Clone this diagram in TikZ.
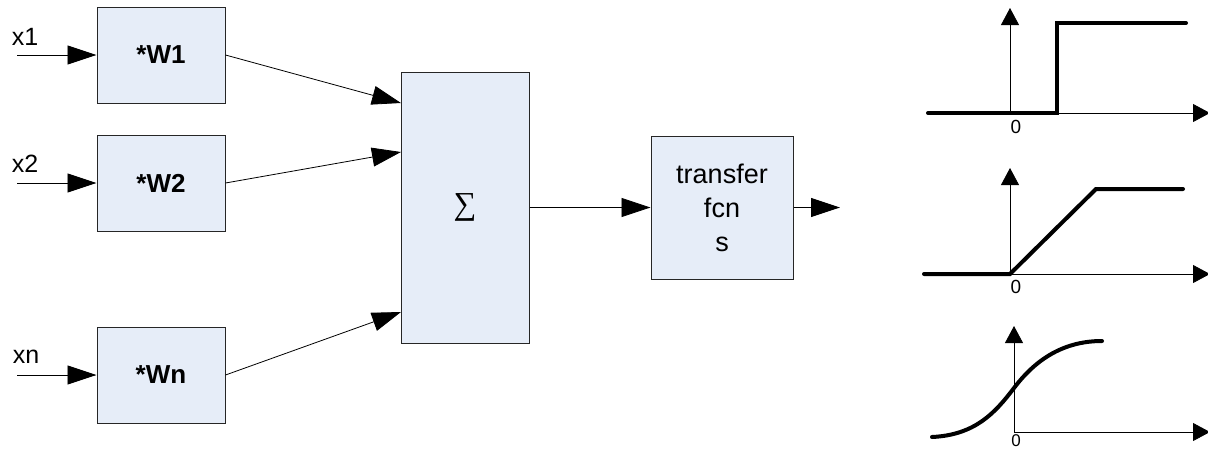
\documentclass[tikz,border=0pt]{standalone}
\usepackage{fontspec}
\setmainfont{Liberation Sans}
\newfontfamily\sumfont{Liberation Serif}
\usetikzlibrary{arrows.meta}
\definecolor{boxfill}{RGB}{230,237,248}

\begin{document}
\begin{tikzpicture}[x=1pt,y=-1pt,
  wbox/.style={draw=black!85,fill=boxfill,line width=1pt,minimum width=128pt,minimum height=96pt,font=\fontsize{26}{30}\selectfont\bfseries},
  inlabel/.style={font=\fontsize{25}{30}\selectfont},
  sig/.style={-{Triangle[length=29pt,width=19pt]},line width=0.8pt},
  ax/.style={-{Triangle[length=17pt,width=18pt]},line width=0.8pt},
  curve/.style={line width=4pt,line cap=round},
  zero/.style={inner sep=0pt,font=\fontsize{19}{22}\selectfont}]

\useasboundingbox (0,0) rectangle (1208,451);

\node[wbox] (w1) at (161,55) {*W1};
\node[wbox] (w2) at (161,183) {*W2};
\node[wbox] (wn) at (161,375) {*Wn};

\node[inlabel] (lx1) at (25,37) {x1};
\node[inlabel] (lx2) at (25,164) {x2};
\node[inlabel] (lxn) at (26,357) {xn};

\coordinate (i1) at (17,55);
\coordinate (i2) at (17,183);
\coordinate (in) at (17,375);

\draw[sig] (i1) -- (w1);
\draw[sig] (i2) -- (w2);
\draw[sig] (in) -- (wn);

\node[draw=black!85,fill=boxfill,line width=1pt,minimum width=128pt,minimum height=271pt,font=\sumfont\fontsize{32}{36}\selectfont] (sum) at (465,207.5) {∑};

\coordinate (s1) at (401,103);
\coordinate (s2) at (401,152);
\coordinate (sn) at (401,312);

\draw[sig] (w1.east) -- (s1);
\draw[sig] (w2.east) -- (s2);
\draw[sig] (wn.east) -- (sn);

\node[draw=black!85,fill=boxfill,line width=1pt,minimum width=142pt,minimum height=143pt,align=center,font=\fontsize{27}{34}\selectfont] (tf) at (722,207.5) {transfer\\fcn\\s};

\coordinate (out) at (840,207.5);

\draw[sig] (sum) -- (tf);
\draw[sig] (tf) -- (out);

\draw[ax] (1010,113) -- (1010,8);
\draw[ax] (1010,113) -- (1210,113);
\draw[curve] (928,113) -- (1057,113) -- (1057,23) -- (1186,23);
\node[zero] (z1) at (1016,127) {0};

\draw[ax] (1010,274) -- (1010,168);
\draw[ax] (1010,274) -- (1210,274);
\draw[curve] (924,274) -- (1010,274) -- (1096,189) -- (1183,189);
\node[zero] (z2) at (1016,287) {0};

\draw[ax] (1014,432) -- (1014,326);
\draw[ax] (1014,432) -- (1210,432);
\draw[curve] (932,437) .. controls (975,435) and (995,413) .. (1014,388) .. controls (1033,363) and (1060,341) .. (1102,341);
\node[zero,font=\fontsize{17}{20}\selectfont] (z3) at (1016,441) {0};

\end{tikzpicture}
\end{document}
